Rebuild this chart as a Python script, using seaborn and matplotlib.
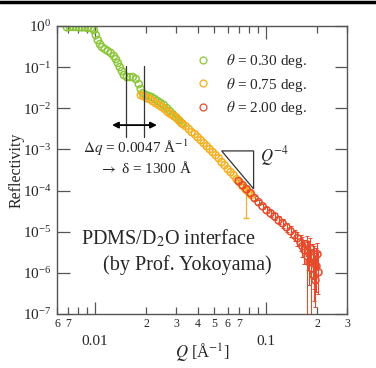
import numpy as np
import pandas as pd
import matplotlib
matplotlib.use("Agg")
import matplotlib.pyplot as plt
import matplotlib.ticker as mticker
from matplotlib.lines import Line2D
from matplotlib.patches import Polygon
import seaborn as sns

# theta = 0.30 deg.
q_030 = [0.00686, 0.00714, 0.00743, 0.00774, 0.00806, 0.00839, 0.00874, 0.0091, 0.00948, 0.00987,
         0.01013, 0.0104, 0.0107, 0.0110, 0.01144, 0.01191, 0.0124, 0.01292, 0.01327, 0.01363,
         0.0140, 0.01439, 0.01479, 0.01539, 0.01603, 0.01668, 0.01738, 0.01808, 0.01858, 0.0191,
         0.01988, 0.0207, 0.02154, 0.02244, 0.02335, 0.02432, 0.02532, 0.02636, 0.02745, 0.02859,
         0.02976, 0.03099, 0.03227]
r_030 = [0.93, 0.95, 0.95, 0.95, 0.93, 0.93, 0.93, 0.894, 0.894, 0.799,
         0.604, 0.456, 0.365, 0.308, 0.275, 0.246, 0.220, 0.186, 0.157, 0.126,
         0.1005, 0.0804, 0.0643, 0.0574, 0.0574, 0.0574, 0.0513, 0.0388, 0.0293, 0.0234,
         0.0210, 0.0198, 0.0187, 0.0167, 0.0150, 0.0134, 0.0120, 0.0101, 0.00855, 0.00723,
         0.00611, 0.00516, 0.00436]

# theta = 0.75 deg.
q_075 = [0.0186, 0.0193, 0.0201, 0.0210, 0.0218, 0.0227, 0.0237, 0.0247, 0.0257, 0.0267,
         0.0278, 0.0290, 0.0302, 0.0314, 0.0327, 0.0340, 0.0355, 0.0369, 0.0385, 0.0400,
         0.0417, 0.0434, 0.0452, 0.0470, 0.0490, 0.0510, 0.0531, 0.0553, 0.0575, 0.0600,
         0.0624, 0.0650, 0.0676, 0.0705, 0.0734, 0.0764, 0.0795, 0.0828]
r_075 = [0.0209, 0.0198, 0.0177, 0.01675, 0.01496, 0.01339, 0.01197, 0.01069, 0.00957, 0.00809,
         0.00723, 0.00646, 0.00578, 0.00488, 0.00413, 0.00369, 0.00312, 0.00264, 0.00236, 0.00199,
         0.00168, 0.00142, 0.00120, 0.00102, 8.59e-4, 7.26e-4, 6.14e-4, 4.91e-4, 4.15e-4, 3.32e-4,
         2.81e-4, 2.37e-4, 1.89e-4, 1.60e-4, 1.28e-4, 1.08e-4, 9.14e-5, 7.73e-5]
# the one long error bar on the 0.75 deg. data
q_075_bar = [0.0764]
r_075_bar = [1.08e-4]
r_075_bar_lo = [2.1e-5]
r_075_bar_hi = [1.25e-4]

# theta = 2.00 deg.
q_200 = [0.0695, 0.0734, 0.0774, 0.0817, 0.0863, 0.0910, 0.0960, 0.1014, 0.1069, 0.1129,
         0.1191, 0.1257, 0.1327, 0.1400, 0.1479, 0.1538, 0.1603, 0.1645, 0.1690, 0.1738,
         0.1760, 0.1784, 0.1808, 0.1832, 0.1858, 0.1884, 0.1910, 0.1934, 0.1959, 0.1986,
         0.2014, 0.2042]
r_200 = [1.69e-4, 1.35e-4, 1.08e-4, 8.65e-5, 6.53e-5, 5.22e-5, 4.17e-5, 3.33e-5, 2.82e-5, 2.38e-5,
         1.905e-5, 1.61e-5, 1.285e-5, 1.028e-5, 8.22e-6, 6.95e-6, 5.56e-6, 4.44e-6, 3.55e-6, 4.97e-6,
         2.54e-6, 3.17e-6, 1.81e-6, 3.97e-6, 1.29e-6, 2.26e-6, 8.75e-7, 1.81e-6, 6.61e-7, 1.45e-6,
         2.84e-6, 1.035e-6]
r_200_lo = [1.55e-4, 1.23e-4, 9.8e-5, 7.8e-5, 5.8e-5, 4.6e-5, 3.6e-5, 2.8e-5, 2.3e-5, 1.9e-5,
            1.5e-5, 1.25e-5, 9.8e-6, 7.5e-6, 5.8e-6, 4.6e-6, 3.4e-6, 2.4e-6, 1.6e-6, 2.5e-6,
            1e-8, 1.2e-6, 5e-7, 1.8e-6, 1e-8, 7e-7, 2.1e-7, 4e-7, 1.5e-7, 3.5e-7,
            1.2e-6, 3e-7]
r_200_hi = [1.85e-4, 1.48e-4, 1.19e-4, 9.6e-5, 7.3e-5, 5.9e-5, 4.8e-5, 3.9e-5, 3.4e-5, 2.9e-5,
            2.35e-5, 2.0e-5, 1.65e-5, 1.35e-5, 1.12e-5, 9.8e-6, 8.4e-6, 7.3e-6, 6.2e-6, 8.0e-6,
            5.6e-6, 6.0e-6, 4.5e-6, 7.0e-6, 3.8e-6, 5.0e-6, 3.0e-6, 4.6e-6, 2.6e-6, 4.0e-6,
            5.2e-6, 3.2e-6]

labels = [r"$\theta$ = 0.30 deg.", r"$\theta$ = 0.75 deg.", r"$\theta$ = 2.00 deg."]
colors = ["#8cc63a", "#f5ae1e", "#e64a2a"]

# fringe spacing annotation and Q^-4 guide
dq_lines = [0.0152, 0.0193]
dq_span = [0.106, 0.0020]
dq_arrow_q = [0.0126, 0.0231]
dq_arrow_r = 0.0039
slope_q = [0.0553, 0.0851]
slope_r = [9.2e-4, 1.1e-4]

sns.set_theme(style="ticks")
plt.rcParams["font.family"] = ["Liberation Serif", "DejaVu Serif"]
plt.rcParams["mathtext.fontset"] = "stix"

df = pd.DataFrame({
    "Q": q_030 + q_075 + q_200,
    "R": r_030 + r_075 + r_200,
    "theta": [labels[0]] * len(q_030) + [labels[1]] * len(q_075) + [labels[2]] * len(q_200),
})

fig = plt.figure(figsize=(3.76, 3.68), dpi=100)
ax = fig.add_axes([57 / 376, 1 - 314 / 368, 290 / 376, 288 / 368])

r200 = np.array(r_200)
ax.errorbar(q_200, r_200, yerr=[r200 - np.array(r_200_lo), np.array(r_200_hi) - r200],
            fmt="none", ecolor=colors[2], elinewidth=0.8, capsize=1.5, capthick=0.7, zorder=1)
ax.errorbar(q_075_bar, r_075_bar,
            yerr=[[r_075_bar[0] - r_075_bar_lo[0]], [r_075_bar_hi[0] - r_075_bar[0]]],
            fmt="none", ecolor=colors[1], elinewidth=0.9, capsize=2, zorder=1)

sns.scatterplot(data=df, x="Q", y="R", hue="theta", palette=dict(zip(labels, colors)),
                s=26, linewidth=1.1, legend=False, ax=ax, zorder=2)
pts = ax.collections[-1]
pts.set_edgecolors(pts.get_facecolors())
pts.set_facecolors("none")

ax.set_xscale("log")
ax.set_yscale("log")
ax.set_xlim(0.006, 0.3)
ax.set_ylim(1e-7, 1)

# x ticks: big decade labels, small digit labels for 2..7
ax.xaxis.set_major_locator(mticker.FixedLocator([0.01, 0.1]))
ax.xaxis.set_major_formatter(mticker.FuncFormatter(lambda x, p: f"{x:g}"))
ax.xaxis.set_minor_locator(mticker.LogLocator(base=10, subs=np.arange(2, 10), numticks=20))

def minor_fmt(x, pos):
    d = int(round(x / 10 ** np.floor(np.log10(x) + 1e-9)))
    return str(d) if 2 <= d <= 7 else ""

ax.xaxis.set_minor_formatter(mticker.FuncFormatter(minor_fmt))
ax.yaxis.set_major_locator(mticker.LogLocator(base=10, numticks=20))
ax.yaxis.set_minor_locator(mticker.NullLocator())

ax.tick_params(which="both", direction="in", top=True, right=True, color="#555555", width=0.9)
ax.tick_params(axis="x", which="major", length=9, pad=15, labelsize=11)
ax.tick_params(axis="x", which="minor", length=5, pad=3, labelsize=8.5)
ax.tick_params(axis="y", which="major", length=9, pad=4, labelsize=11)
for s in ax.spines.values():
    s.set_color("#555555")
    s.set_linewidth(1.0)

ax.set_xlabel(r"$Q$ [Å$^{-1}$]", fontsize=12)
ax.xaxis.set_label_coords(0.5, -0.095)
ax.set_ylabel("Reflectivity", fontsize=11.5, labelpad=-1)

# delta q annotation
for q in dq_lines:
    ax.plot([q, q], dq_span, color="#333333", lw=0.9)
ax.annotate("", xy=(dq_arrow_q[0], dq_arrow_r), xytext=(dq_arrow_q[1], dq_arrow_r),
            arrowprops=dict(arrowstyle="<|-|>", color="black", lw=1.3, mutation_scale=9,
                            shrinkA=0, shrinkB=0))
ax.text(0.088, 0.576, r"$\Delta q$ = 0.0047 Å$^{-1}$", transform=ax.transAxes,
        fontsize=11, va="center", ha="left")
ax.text(0.145, 0.507, r"$\rightarrow$ δ = 1300 Å", transform=ax.transAxes,
        fontsize=11, va="center", ha="left")

# Q^-4 triangle
tri = Polygon([[slope_q[0], slope_r[0]], [slope_q[1], slope_r[0]], [slope_q[1], slope_r[1]]],
              closed=True, fill=False, edgecolor="#333333", lw=0.9)
ax.add_patch(tri)
ax.text(0.70, 0.55, r"$Q^{-4}$", transform=ax.transAxes, fontsize=12, va="center", ha="left")

ax.text(0.084, 0.264, "PDMS/D$_2$O interface", transform=ax.transAxes,
        fontsize=14.5, va="center", ha="left")
ax.text(0.157, 0.170, "(by Prof. Yokoyama)", transform=ax.transAxes,
        fontsize=14.5, va="center", ha="left")

handles = [Line2D([], [], ls="none", marker="o", ms=5, mfc="none", mec=c, mew=0.9) for c in colors]
ax.legend(handles, labels, loc="upper left", bbox_to_anchor=(0.45, 0.93), frameon=False,
          fontsize=11, handletextpad=0.9, labelspacing=0.35, borderaxespad=0, handlelength=1.2)

fig.add_artist(Line2D([0, 1], [0.995, 0.995], color="black", lw=2.5, transform=fig.transFigure))

fig.savefig("out.png", dpi=100)
